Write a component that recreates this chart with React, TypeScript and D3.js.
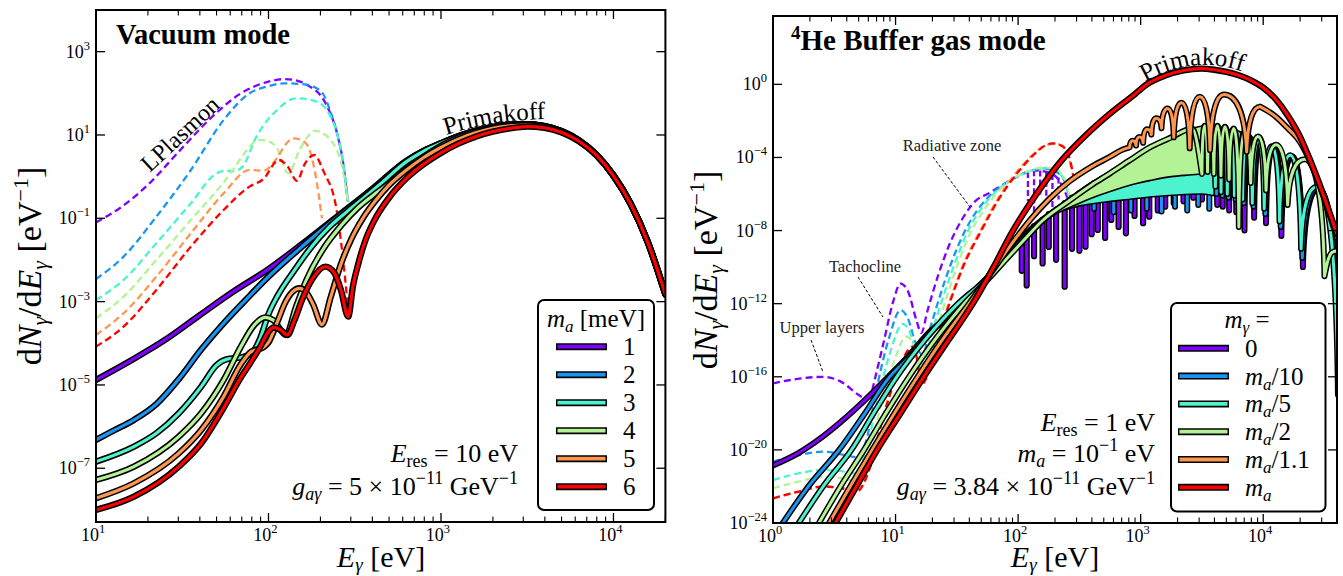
import React from "react";
import * as d3 from "d3";

type P = [number, number];
type T3 = [number, number, number];

// ---------------- colours (legend order) ----------------
const COLORS = ["#8000ff", "#1996f3", "#4df3ce", "#b3f396", "#ff964f", "#ff0000"];

// ================= LEFT PANEL : Vacuum mode =================
// points are [log10(E/eV), log10(dN/dE)]
const leftMassLabels = ["1", "2", "3", "4", "5", "6"];
const leftTicksX = [10, 100, 1000, 10000];
const leftTicksY = [-7, -5, -3, -1, 1, 3];

const vacSolid1: P[] = [[1.0,-4.88],[1.2,-4.42],[1.4,-3.92],[1.6,-3.33],[1.8,-2.75],[2.0,-2.22],[2.2,-1.6],[2.4,-0.95],[2.6,-0.3],[2.8,0.38],[2.9,0.62],[3.0,0.8],[3.1,0.97],[3.2,1.1],[3.3,1.19],[3.4,1.245],[3.5,1.26],[3.6,1.21],[3.7,1.09],[3.8,0.87],[3.9,0.53],[4.0,0.03],[4.1,-0.65],[4.2,-1.58],[4.301,-2.82]];
const vacSolid2: P[] = [[1.0,-6.32],[1.1,-6.1],[1.22,-5.84],[1.35,-5.46],[1.48,-4.86],[1.61,-4.15],[1.74,-3.52],[1.87,-2.95],[2.0,-2.4],[2.1,-2.02],[2.2,-1.66],[2.4,-0.97],[2.6,-0.31],[2.8,0.38],[2.9,0.62],[3.0,0.8],[3.1,0.97],[3.2,1.1],[3.3,1.19],[3.4,1.245],[3.5,1.26],[3.6,1.21],[3.7,1.09],[3.8,0.87],[3.9,0.53],[4.0,0.03],[4.1,-0.65],[4.2,-1.58],[4.301,-2.82]];
const vacSolid3: P[] = [[1.0,-6.84],[1.22,-6.48],[1.35,-6.16],[1.48,-5.68],[1.61,-5.04],[1.7,-4.52],[1.76,-4.38],[1.84,-4.34],[1.9,-4.25],[1.95,-3.9],[2.0,-3.3],[2.05,-2.88],[2.15,-2.25],[2.25,-1.68],[2.35,-1.22],[2.45,-0.86],[2.55,-0.52],[2.65,-0.17],[2.8,0.36],[2.9,0.61],[3.0,0.8],[3.1,0.97],[3.2,1.1],[3.3,1.19],[3.4,1.245],[3.5,1.26],[3.6,1.21],[3.7,1.09],[3.8,0.87],[3.9,0.53],[4.0,0.03],[4.1,-0.65],[4.2,-1.58],[4.301,-2.82]];
const vacSolid4: P[] = [[1.0,-7.28],[1.22,-6.96],[1.48,-6.24],[1.61,-5.68],[1.74,-4.88],[1.84,-4.08],[1.92,-3.55],[1.98,-3.38],[2.03,-3.45],[2.07,-3.68],[2.1,-3.8],[2.16,-3.12],[2.22,-2.48],[2.32,-1.72],[2.42,-1.18],[2.51,-0.78],[2.6,-0.47],[2.7,-0.16],[2.8,0.18],[2.9,0.48],[3.0,0.74],[3.1,0.94],[3.2,1.08],[3.3,1.18],[3.4,1.24],[3.5,1.255],[3.6,1.21],[3.7,1.09],[3.8,0.87],[3.9,0.53],[4.0,0.03],[4.1,-0.65],[4.2,-1.58],[4.301,-2.82]];
const vacSolid5: P[] = [[1.0,-7.72],[1.22,-7.36],[1.48,-6.64],[1.61,-6.08],[1.74,-5.28],[1.84,-4.5],[1.9,-4.2],[1.97,-4.1],[2.0,-3.98],[2.05,-3.5],[2.1,-3.0],[2.14,-2.76],[2.18,-2.68],[2.22,-2.78],[2.26,-3.08],[2.31,-3.55],[2.36,-2.9],[2.42,-2.1],[2.48,-1.5],[2.55,-0.98],[2.62,-0.58],[2.7,-0.2],[2.8,0.16],[2.9,0.46],[3.0,0.7],[3.1,0.9],[3.2,1.05],[3.3,1.16],[3.4,1.22],[3.5,1.24],[3.6,1.2],[3.7,1.08],[3.8,0.86],[3.9,0.52],[4.0,0.02],[4.1,-0.66],[4.2,-1.59],[4.301,-2.83]];
const vacSolid6: P[] = [[1.0,-8.0],[1.22,-7.68],[1.48,-6.96],[1.61,-6.4],[1.74,-5.55],[1.84,-4.82],[1.89,-4.5],[1.95,-4.1],[2.0,-3.72],[2.03,-3.62],[2.07,-3.68],[2.11,-3.8],[2.15,-3.45],[2.2,-2.9],[2.26,-2.42],[2.33,-2.16],[2.38,-2.3],[2.42,-2.72],[2.462,-3.36],[2.49,-2.62],[2.52,-2.1],[2.56,-1.55],[2.61,-1.08],[2.7,-0.5],[2.8,-0.04],[2.9,0.3],[3.0,0.57],[3.1,0.79],[3.2,0.96],[3.3,1.08],[3.4,1.16],[3.5,1.2],[3.6,1.17],[3.7,1.06],[3.8,0.85],[3.9,0.52],[4.0,0.02],[4.1,-0.66],[4.2,-1.59],[4.301,-2.83]];
const vacSolid = [vacSolid1, vacSolid2, vacSolid3, vacSolid4, vacSolid5, vacSolid6];

const vacDash1: P[] = [[1.0,-1.1],[1.15,-0.72],[1.3,-0.2],[1.48,0.6],[1.69,1.5],[1.84,2.0],[2.0,2.28],[2.09,2.34],[2.17,2.3],[2.24,2.16],[2.3,1.96],[2.35,1.6],[2.4,1.0],[2.43,0.4],[2.46,-0.6]];
const vacDash2: P[] = [[1.0,-2.46],[1.16,-1.92],[1.35,-0.96],[1.55,0.16],[1.74,1.36],[1.89,2.0],[2.0,2.17],[2.09,2.24],[2.2,2.22],[2.28,2.12],[2.32,1.96],[2.36,1.55],[2.4,1.0],[2.43,0.4],[2.46,-0.6]];
const vacDash3: P[] = [[1.0,-2.96],[1.16,-2.48],[1.35,-1.6],[1.55,-0.64],[1.7,0.08],[1.75,0.14],[1.8,0.13],[1.85,0.24],[1.93,0.96],[2.05,1.6],[2.16,1.88],[2.28,1.8],[2.36,1.44],[2.4,1.0],[2.43,0.4],[2.46,-0.6]];
const vacDash4: P[] = [[1.0,-3.4],[1.16,-2.88],[1.35,-2.0],[1.55,-1.04],[1.78,0.08],[1.85,0.5],[1.89,0.72],[1.95,0.88],[2.0,0.85],[2.05,0.68],[2.115,0.08],[2.18,0.64],[2.27,1.1],[2.36,0.88],[2.43,0.16],[2.46,-0.6]];
const vacDash5: P[] = [[1.0,-3.8],[1.16,-3.28],[1.35,-2.4],[1.55,-1.36],[1.74,-0.4],[1.89,0.16],[1.97,0.14],[2.05,0.45],[2.1,0.78],[2.144,0.92],[2.19,0.88],[2.23,0.72],[2.27,0.1],[2.31,-1.0]];
const vacDash6: P[] = [[1.0,-4.08],[1.16,-3.6],[1.35,-2.72],[1.55,-1.68],[1.74,-0.8],[1.89,-0.24],[1.97,-0.06],[2.06,0.4],[2.11,0.25],[2.165,-0.1],[2.21,0.3],[2.265,0.52],[2.32,0.12],[2.395,-0.8],[2.43,-1.9],[2.46,-3.1]];
const vacDash = [vacDash1, vacDash2, vacDash3, vacDash4, vacDash5, vacDash6];

// ================= RIGHT PANEL : 4He buffer gas =================
const rightLegendLabels = ["0", "m_a/10", "m_a/5", "m_a/2", "m_a/1.1", "m_a"];
const rightTicksX = [1, 10, 100, 1000, 10000];
const rightTicksY = [-24, -20, -16, -12, -8, -4, 0];

// m_gamma = 0
const gas0Pre: P[] = [[0,-20.85],[0.2,-20.2],[0.4,-19.3],[0.6,-18.2],[0.8,-16.95],[0.94,-16.0],[1.1,-14.9],[1.3,-13.4],[1.5,-12.5],[1.55,-12.1],[1.58,-12.05],[1.62,-11.55],[1.65,-11.45],[1.69,-11.0],[1.72,-10.85],[1.8,-10.1],[1.9,-9.4],[2.0,-8.6],[2.1,-7.95],[2.2,-7.4],[2.4,-6.45],[2.6,-5.55],[2.8,-4.75],[3.0,-3.95],[3.2,-3.3],[3.4,-2.8],[3.55,-2.55],[3.6,-2.5],[3.625,-6.6]];
const gas0Dips: P[] = [[3.625,-6.6],[3.67,-6.7],[3.722,-6.9],[3.78,-7.0],[3.847,-8.0],[3.926,-7.3],[4.023,-7.6],[4.148,-8.3],[4.324,-10.0],[4.625,-17.0]];
const gas0Peaks: P[] = [[3.648,-2.55],[3.696,-2.58],[3.751,-2.65],[3.813,-2.73],[3.886,-2.86],[3.975,-3.1],[4.085,-3.45],[4.236,-3.95],[4.455,-5.7]];
const gas0Spikes: T3[] = [[2.03,-8.4,-10.2],[2.07,-8.15,-11.0],[2.13,-7.75,-9.4],[2.2,-7.4,-9.8],[2.25,-7.1,-8.9],[2.31,-6.85,-9.6],[2.38,-6.5,-11.07],[2.44,-6.2,-9.0],[2.5,-5.95,-9.1],[2.55,-5.75,-8.88],[2.6,-5.55,-8.2],[2.65,-5.35,-7.97],[2.71,-5.1,-8.4],[2.76,-4.9,-7.42],[2.82,-4.7,-7.8],[2.88,-4.5,-8.15],[2.95,-4.2,-7.2],[3.02,-3.9,-7.6],[3.07,-3.75,-7.24],[3.14,-3.5,-6.9],[3.2,-3.3,-6.69],[3.27,-3.1,-6.5],[3.35,-2.85,-6.4],[3.43,-2.7,-6.2],[3.5,-2.55,-6.3]];
// m_a/10
const gas1Pre: P[] = [[0.05,-24.3],[0.3,-21.9],[0.54,-20.0],[0.75,-18.0],[0.94,-16.1],[1.1,-15.0],[1.3,-13.5],[1.48,-12.3],[1.6,-11.6],[1.8,-10.2],[2.0,-8.7],[2.2,-7.45],[2.4,-6.45],[2.6,-5.5],[2.8,-4.7],[3.0,-3.9],[3.2,-3.25],[3.4,-2.75],[3.55,-2.5],[3.6,-2.48],[3.62,-6.0]];
const gas1Dips: P[] = [[3.62,-6.0],[3.666,-6.1],[3.717,-6.2],[3.775,-6.3],[3.842,-6.5],[3.921,-6.7],[4.018,-7.1],[4.143,-7.8],[4.319,-9.5],[4.62,-17.0]];
const gas1Peaks: P[] = [[3.643,-2.53],[3.691,-2.56],[3.746,-2.63],[3.808,-2.71],[3.881,-2.84],[3.97,-3.08],[4.08,-3.43],[4.231,-3.93],[4.45,-5.65]];
const gas1Spikes: T3[] = [[2.62,-5.4,-6.8],[2.78,-4.8,-7.0],[2.92,-4.3,-6.9],[3.05,-3.8,-6.8],[3.17,-3.4,-6.95],[3.28,-3.05,-6.7],[3.38,-2.8,-6.9],[3.47,-2.6,-6.6],[3.56,-2.5,-6.8]];
// m_a/5
const gas2Pre: P[] = [[0.21,-24],[0.42,-21.9],[0.64,-20],[0.83,-17.9],[1.01,-16],[1.25,-13.9],[1.51,-12],[1.7,-10.9],[1.85,-9.9],[2.0,-8.75],[2.2,-7.45],[2.4,-6.45],[2.6,-5.5],[2.8,-4.7],[3.0,-3.9],[3.2,-3.25],[3.4,-2.75],[3.55,-2.5],[3.59,-2.48],[3.61,-5.6]];
const gas2Dips: P[] = [[3.61,-5.6],[3.656,-5.9],[3.707,-6.0],[3.765,-6.1],[3.832,-6.3],[3.911,-6.5],[4.008,-6.8],[4.133,-7.5],[4.309,-9.0],[4.61,-17.0]];
const gas2Peaks: P[] = [[3.633,-2.5],[3.681,-2.52],[3.736,-2.58],[3.798,-2.67],[3.871,-2.8],[3.96,-3.03],[4.07,-3.38],[4.221,-3.88],[4.44,-5.6]];
const gas2Band: T3[] = [[2.35,-6.7,-6.95],[2.5,-6.0,-6.65],[2.7,-5.1,-6.45],[2.9,-4.3,-6.3],[3.1,-3.6,-6.15],[3.3,-3.0,-6.05],[3.5,-2.6,-6.0],[3.6,-2.5,-6.1]];
// m_a/2
const gas3Pre: P[] = [[0.375,-24],[0.56,-21.9],[0.743,-20],[0.93,-17.9],[1.11,-16],[1.33,-13.9],[1.56,-12],[1.75,-10.7],[1.9,-9.6],[2.05,-8.5],[2.2,-7.45],[2.4,-6.45],[2.6,-5.5],[2.75,-4.87],[2.9,-4.2],[3.085,-3.41],[3.25,-2.9],[3.42,-2.41],[3.5,-4.9]];
const gas3Dips: P[] = [[3.5,-4.9],[3.546,-4.8],[3.597,-4.9],[3.655,-5.0],[3.722,-5.2],[3.801,-7.8],[3.898,-5.4],[4.023,-5.8],[4.199,-6.6],[4.5,-10.5]];
const gas3Peaks: P[] = [[3.523,-2.26],[3.572,-2.25],[3.626,-2.27],[3.688,-2.32],[3.76,-2.42],[3.848,-2.58],[3.958,-2.85],[4.105,-3.3],[4.34,-4.1]];
const gas3Post: P[] = [[4.5,-10.5],[4.53,-9.6],[4.56,-9.2],[4.602,-9.1]];
const gas3Band: T3[] = [[2.2,-7.45,-7.5],[2.35,-6.7,-6.95],[2.5,-5.95,-6.5],[2.65,-5.3,-6.1],[2.8,-4.65,-5.75],[2.95,-4.0,-5.45],[3.085,-3.41,-5.25],[3.25,-2.9,-5.05],[3.42,-2.41,-4.95],[3.5,-2.28,-4.9]];
// m_a/1.1
const gas4Pre: P[] = [[0.458,-24],[0.63,-22],[0.81,-20],[1.0,-17.9],[1.18,-16],[1.39,-13.9],[1.6,-12],[1.78,-10.3],[1.95,-8.7],[2.1,-7.4],[2.25,-6.3],[2.42,-5.3],[2.6,-4.5],[2.75,-3.96],[2.85,-3.58],[2.91,-3.45]];
const gas4Dips: P[] = [[2.91,-3.45],[2.962,-3.35],[3.02,-3.2],[3.087,-2.75],[3.17,-2.4],[3.27,-2.9],[3.4,-3.5],[3.566,-3.6],[3.865,-3.7]];
const gas4Peaks: P[] = [[2.936,-3.08],[2.99,-2.88],[3.053,-2.45],[3.128,-1.86],[3.22,-1.32],[3.333,-1.0],[3.483,-0.68],[3.68,-0.56],[3.975,-1.22]];
const gas4Post: P[] = [[3.975,-1.22],[4.1,-1.75],[4.2,-2.4],[4.3,-3.15],[4.4,-4.5],[4.5,-6.3],[4.602,-8.4]];
// m_gamma = m_a
const gas5Line: P[] = [[0.51,-24],[0.68,-22],[0.85,-20],[1.04,-18],[1.23,-16],[1.43,-14],[1.63,-12],[1.8,-10],[1.95,-8.1],[2.15,-6.0],[2.35,-4.2],[2.55,-2.8],[2.75,-1.6],[2.95,-0.55],[3.05,0.0],[3.2,0.48],[3.35,0.76],[3.49,0.86],[3.6,0.8],[3.7,0.68],[3.8,0.5],[3.9,0.22],[4.0,-0.18],[4.1,-0.8],[4.2,-1.7],[4.3,-2.86],[4.38,-4.1],[4.45,-5.3],[4.52,-6.6],[4.602,-8.2]];

// dashed (solar-region) components
const gasDash0a: P[] = [[0,-16.36],[0.2,-16.12],[0.41,-16.0],[0.55,-16.25],[0.7,-17.0],[0.76,-17.25]];
const gasDash0b: P[] = [[0.81,-16.72],[0.9,-14.2],[0.98,-11.9],[1.04,-10.9],[1.1,-11.3],[1.17,-12.9],[1.21,-13.6],[1.26,-12.4],[1.35,-10.4],[1.45,-8.6],[1.55,-7.3],[1.66,-6.33],[1.75,-6.0],[1.9,-5.4],[2.05,-4.85],[2.12,-4.7],[2.2,-4.75],[2.3,-5.0],[2.37,-5.7],[2.42,-6.5]];
const gasDash0Spikes: T3[] = [[2.08,-4.8,-6.4],[2.13,-4.7,-7.0],[2.18,-4.72,-6.1],[2.23,-4.78,-6.7],[2.28,-4.9,-6.9],[2.33,-5.1,-6.3]];
const gasDash1: P[] = [[0,-20.64],[0.2,-20.3],[0.41,-20.1],[0.6,-20.3],[0.68,-20.4],[0.76,-19.5],[0.85,-16.5],[0.95,-13.8],[1.04,-12.35],[1.1,-12.8],[1.17,-14.3],[1.22,-14.8],[1.28,-13.4],[1.4,-10.8],[1.5,-9.0],[1.6,-7.6],[1.7,-6.6],[1.8,-5.9],[1.95,-5.2],[2.1,-4.75],[2.2,-4.6],[2.3,-4.75],[2.38,-5.3],[2.42,-6.3]];
const gasDash2: P[] = [[0,-21.65],[0.2,-21.3],[0.41,-21.1],[0.6,-21.2],[0.68,-21.3],[0.76,-20],[0.85,-17.4],[0.95,-14.8],[1.06,-13.1],[1.12,-13.6],[1.18,-14.9],[1.22,-15.3],[1.3,-13.5],[1.4,-11.4],[1.5,-9.5],[1.6,-7.9],[1.7,-6.8],[1.8,-6.0],[1.95,-5.2],[2.1,-4.75],[2.2,-4.6],[2.3,-4.7],[2.38,-5.3],[2.42,-6.3]];
const gasDash3: P[] = [[0,-22.1],[0.2,-21.75],[0.41,-21.47],[0.6,-21.6],[0.7,-21.8],[0.78,-20.3],[0.88,-17.6],[0.98,-15.3],[1.09,-13.8],[1.15,-14.3],[1.2,-15.5],[1.24,-15.8],[1.32,-13.8],[1.42,-11.6],[1.52,-9.6],[1.62,-8.0],[1.72,-6.9],[1.82,-6.0],[1.95,-5.2],[2.1,-4.7],[2.2,-4.55],[2.3,-4.6],[2.38,-5.2],[2.42,-6.1]];
const gasDash4: P[] = [[0,-22.65],[0.2,-22.3],[0.41,-22.0],[0.6,-22.15],[0.68,-22.29],[0.8,-20.7],[0.9,-18.1],[1.0,-16.0],[1.13,-14.5],[1.17,-15.0],[1.21,-16.3],[1.25,-16.0],[1.33,-14.1],[1.45,-11.7],[1.55,-9.9],[1.7,-7.9],[1.85,-6.1],[2.0,-4.7],[2.12,-3.85],[2.22,-3.35],[2.3,-3.25],[2.36,-3.35],[2.41,-3.9],[2.44,-4.8]];
const gasDash5: P[] = [[0,-22.65],[0.2,-22.3],[0.41,-22.01],[0.6,-22.15],[0.68,-22.29],[0.8,-20.8],[0.9,-18.2],[1.0,-16.1],[1.14,-14.35],[1.18,-15.2],[1.21,-16.45],[1.25,-16.1],[1.33,-14.2],[1.45,-11.8],[1.55,-10.0],[1.7,-8.0],[1.85,-6.2],[2.0,-4.8],[2.12,-3.9],[2.22,-3.35],[2.282,-3.23],[2.35,-3.35],[2.4,-3.7],[2.43,-4.3],[2.45,-5.0]];
const gasDash = [gasDash1, gasDash2, gasDash3, gasDash4, gasDash5];

// ---------------- geometry ----------------
const LB = { x0: 96, x1: 665.4, y0: 10, y1: 522 };
const RB = { x0: 773, x1: 1337, y0: 16, y1: 523 };
const FONT = "'Liberation Serif', 'Times New Roman', serif";

const xL = d3.scaleLog().domain([10, 2e4]).range([LB.x0, LB.x1]);
const yL = d3.scaleLog().domain([Math.pow(10, -8.29), 1e4]).range([LB.y1, LB.y0]);
const xR = d3.scaleLog().domain([1, 4e4]).range([RB.x0, RB.x1]);
const yR = d3.scaleLog().domain([1e-24, Math.pow(10, 3.74)]).range([RB.y1, RB.y0]);

function mkLine(xs: any, ys: any) {
  return d3.line<P>()
    .x((d) => xs(Math.pow(10, d[0])))
    .y((d) => ys(Math.pow(10, d[1])))
    .curve(d3.curveMonotoneX);
}
const lineL = mkLine(xL, yL);
const lineR = mkLine(xR, yR);

// oscillating curve: smooth part, then one arch per lobe between read dips and peaks
function oscPath(pre: P[], dips: P[], peaks: P[], post: P[] = []) {
  const S = (p: P) => [xR(Math.pow(10, p[0])), yR(Math.pow(10, p[1]))];
  let s = pre.length > 1 ? (lineR(pre) || "") : `M${S(dips[0]).join(",")}`;
  for (let i = 0; i < peaks.length; i++) {
    const [ax, ay] = S(dips[i]);
    const [px, py] = S(peaks[i]);
    s += `C${ax + 0.08 * (px - ax)},${ay + 0.72 * (py - ay)} ${px - 0.5 * (px - ax)},${py} ${px},${py}`;
    if (i + 1 < dips.length) {
      const [bx, by] = S(dips[i + 1]);
      s += `C${px + 0.5 * (bx - px)},${py} ${bx - 0.08 * (bx - px)},${by + 0.72 * (py - by)} ${bx},${by}`;
    }
  }
  if (post.length > 1) s += (lineR(post) || "").replace(/^M/, "L");
  return s;
}

function Frame({ b, xs, ys, xMaj, xMax, yMaj }: any) {
  const ticks: JSX.Element[] = [];
  const xmin = xs.domain()[0];
  xMaj.forEach((v: number, i: number) => {
    const X = xs(v);
    ticks.push(<line key={"xb" + i} x1={X} x2={X} y1={b.y1} y2={b.y1 - 9} stroke="#000" strokeWidth={1.3} />);
    ticks.push(<line key={"xt" + i} x1={X} x2={X} y1={b.y0} y2={b.y0 + 9} stroke="#000" strokeWidth={1.3} />);
    for (let k = 2; k <= 9; k++) {
      const m = v * k;
      if (m > xMax || m < xmin) continue;
      const Xm = xs(m);
      ticks.push(<line key={"mb" + i + k} x1={Xm} x2={Xm} y1={b.y1} y2={b.y1 - 5.5} stroke="#000" strokeWidth={1.1} />);
      ticks.push(<line key={"mt" + i + k} x1={Xm} x2={Xm} y1={b.y0} y2={b.y0 + 5.5} stroke="#000" strokeWidth={1.1} />);
    }
  });
  yMaj.forEach((e: number, i: number) => {
    const Y = ys(Math.pow(10, e));
    ticks.push(<line key={"yl" + i} x1={b.x0} x2={b.x0 + 9} y1={Y} y2={Y} stroke="#000" strokeWidth={1.3} />);
    ticks.push(<line key={"yr" + i} x1={b.x1} x2={b.x1 - 9} y1={Y} y2={Y} stroke="#000" strokeWidth={1.3} />);
  });
  return <g>{ticks}</g>;
}

function TickLabels({ b, xs, ys, xMaj, yMaj }: any) {
  return (
    <g fontFamily={FONT} fill="#000">
      {xMaj.map((v: number, i: number) => (
        <text key={"xl" + i} x={xs(v) - 3} y={b.y1 + 19} fontSize={18} textAnchor="middle">
          10<tspan dy={-8} fontSize={12.5}>{Math.round(Math.log10(v))}</tspan>
        </text>
      ))}
      {yMaj.map((e: number, i: number) => (
        <text key={"yl" + i} x={b.x0 - 6} y={ys(Math.pow(10, e)) + 6} fontSize={18} textAnchor="end">
          10<tspan dy={-8} fontSize={12.5}>{e < 0 ? "\u2212" + Math.abs(e) : String(e)}</tspan>
        </text>
      ))}
    </g>
  );
}

function OutlinedPath({ d, color, w = 3.2, bw = 6.4 }: any) {
  return (
    <g>
      <path d={d} fill="none" stroke="#000" strokeWidth={bw} strokeLinejoin="round" strokeLinecap="round" />
      <path d={d} fill="none" stroke={color} strokeWidth={w} strokeLinejoin="round" strokeLinecap="round" />
    </g>
  );
}

function Spikes({ data, color, dashed = false, w = 2.8 }: { data: T3[]; color: string; dashed?: boolean; w?: number }) {
  return (
    <g>
      {data.map((s, i) => {
        const X = xR(Math.pow(10, s[0]));
        const y1 = yR(Math.pow(10, s[1]));
        const y2 = yR(Math.pow(10, s[2]));
        return dashed ? (
          <line key={i} x1={X} x2={X} y1={y1} y2={y2} stroke={color} strokeWidth={2.3} strokeDasharray="6,3" />
        ) : (
          <g key={i}>
            <line x1={X} x2={X} y1={y1} y2={y2} stroke="#000" strokeWidth={w + 3} strokeLinecap="round" />
            <line x1={X} x2={X} y1={y1} y2={y2} stroke={color} strokeWidth={w} strokeLinecap="round" />
          </g>
        );
      })}
    </g>
  );
}

function YLabel({ x, y }: any) {
  return (
    <text transform={`translate(${x},${y}) rotate(-90)`} fontFamily={FONT} fontSize={34} textAnchor="middle">
      d<tspan fontStyle="italic">N</tspan><tspan fontSize={22} dy={6} fontStyle="italic">γ</tspan>
      <tspan dy={-6}>/d</tspan><tspan fontStyle="italic">E</tspan><tspan fontSize={22} dy={6} fontStyle="italic">γ</tspan>
      <tspan dy={-6}> [eV</tspan><tspan fontSize={22} dy={-13}>−1</tspan><tspan dy={13}>]</tspan>
    </text>
  );
}
function XLabel({ x, y }: any) {
  return (
    <text x={x} y={y} fontFamily={FONT} fontSize={30} textAnchor="middle">
      <tspan fontStyle="italic">E</tspan><tspan fontSize={19} dy={4} fontStyle="italic">γ</tspan><tspan dy={-4}> [eV]</tspan>
    </text>
  );
}

function LeftPanel() {
  return (
    <g>
      <defs>
        <clipPath id="clipL"><rect x={LB.x0} y={LB.y0} width={LB.x1 - LB.x0} height={LB.y1 - LB.y0} /></clipPath>
        <path id="primL" d="M 446,135 Q 500,118 560,119" />
      </defs>
      <rect x={LB.x0} y={LB.y0} width={LB.x1 - LB.x0} height={LB.y1 - LB.y0} fill="#fff" />
      <g clipPath="url(#clipL)">
        {vacDash.map((c, i) => (
          <path key={"d" + i} d={lineL(c) || ""} fill="none" stroke={COLORS[i]} strokeWidth={2.3} strokeDasharray="7,4" />
        ))}
        {vacSolid.map((c, i) => (
          <OutlinedPath key={"s" + i} d={lineL(c) || ""} color={COLORS[i]} />
        ))}
      </g>
      <Frame b={LB} xs={xL} ys={yL} xMaj={leftTicksX} xMax={2e4} yMaj={leftTicksY} />
      <rect x={LB.x0} y={LB.y0} width={LB.x1 - LB.x0} height={LB.y1 - LB.y0} fill="none" stroke="#000" strokeWidth={2} />
      <TickLabels b={LB} xs={xL} ys={yL} xMaj={leftTicksX} yMaj={leftTicksY} />
      <text x={116} y={44} fontFamily={FONT} fontSize={28.5} fontWeight="bold">Vacuum mode</text>
      <text fontFamily={FONT} fontSize={24} transform="translate(180,134) rotate(-43)" textAnchor="middle" dy={8}>LPlasmon</text>
      <text fontFamily={FONT} fontSize={25}><textPath href="#primL">Primakoff</textPath></text>
      <g fontFamily={FONT} fontSize={26} textAnchor="end">
        <text x={518} y={462}>
          <tspan fontStyle="italic">E</tspan><tspan fontSize={18} dy={5}>res</tspan><tspan dy={-5}> = 10 eV</tspan>
        </text>
        <text x={518} y={495}>
          <tspan fontStyle="italic">g</tspan><tspan fontSize={18} dy={5} fontStyle="italic">aγ</tspan><tspan dy={-5}> = 5 × 10</tspan>
          <tspan fontSize={18} dy={-11}>−11</tspan><tspan dy={11}> GeV</tspan><tspan fontSize={18} dy={-11}>−1</tspan>
        </text>
      </g>
      {/* legend */}
      <rect x={538} y={300} width={116} height={210} rx={6} fill="#fff" stroke="#000" strokeWidth={2} />
      <text x={596} y={327} fontFamily={FONT} fontSize={25} textAnchor="middle">
        <tspan fontStyle="italic">m</tspan><tspan fontSize={17} dy={5} fontStyle="italic">a</tspan><tspan dy={-5}> [meV]</tspan>
      </text>
      {leftMassLabels.map((lab, i) => {
        const Y = 346.7 + i * 28;
        return (
          <g key={"lg" + i}>
            <line x1={556} x2={607} y1={Y} y2={Y} stroke="#000" strokeWidth={7} />
            <line x1={557.5} x2={605.5} y1={Y} y2={Y} stroke={COLORS[i]} strokeWidth={3.8} />
            <text x={623} y={Y + 8.5} fontFamily={FONT} fontSize={25}>{lab}</text>
          </g>
        );
      })}
      <YLabel x={41} y={266} />
      <XLabel x={381} y={567} />
    </g>
  );
}

function RightPanel() {
  const area = d3.area<T3>()
    .x((d) => xR(Math.pow(10, d[0])))
    .y0((d) => yR(Math.pow(10, d[2])))
    .y1((d) => yR(Math.pow(10, d[1])))
    .curve(d3.curveMonotoneX);
  return (
    <g>
      <defs>
        <clipPath id="clipR"><rect x={RB.x0} y={RB.y0} width={RB.x1 - RB.x0} height={RB.y1 - RB.y0} /></clipPath>
        <path id="primR" d="M 1145,82 Q 1200,50 1258,78" />
      </defs>
      <rect x={RB.x0} y={RB.y0} width={RB.x1 - RB.x0} height={RB.y1 - RB.y0} fill="#fff" />
      <g clipPath="url(#clipR)">
        <path d={lineR(gasDash0a) || ""} fill="none" stroke={COLORS[0]} strokeWidth={2.3} strokeDasharray="7,4" />
        <path d={lineR(gasDash0b) || ""} fill="none" stroke={COLORS[0]} strokeWidth={2.3} strokeDasharray="7,4" />
        <Spikes data={gasDash0Spikes} color={COLORS[0]} dashed />
        {gasDash.map((c, i) => (
          <path key={"d" + i} d={lineR(c) || ""} fill="none" stroke={COLORS[i + 1]} strokeWidth={2.3} strokeDasharray="7,4" />
        ))}
        {/* m_gamma = 0 */}
        <OutlinedPath d={oscPath(gas0Pre, gas0Dips, gas0Peaks)} color={COLORS[0]} w={3} bw={6} />
        <Spikes data={gas0Spikes} color={COLORS[0]} w={3.2} />
        {/* m_a/10 */}
        <OutlinedPath d={oscPath(gas1Pre, gas1Dips, gas1Peaks)} color={COLORS[1]} w={3} bw={6} />
        <Spikes data={gas1Spikes} color={COLORS[1]} w={3} />
        {/* m_a/5 */}
        <path d={area(gas2Band) || ""} fill={COLORS[2]} stroke="#000" strokeWidth={1.6} />
        <OutlinedPath d={oscPath(gas2Pre, gas2Dips, gas2Peaks)} color={COLORS[2]} w={3} bw={6} />
        {/* m_a/2 */}
        <path d={area(gas3Band) || ""} fill={COLORS[3]} stroke="#000" strokeWidth={1.6} />
        <OutlinedPath d={oscPath(gas3Pre, gas3Dips, gas3Peaks, gas3Post)} color={COLORS[3]} w={3} bw={6} />
        {/* m_a/1.1 */}
        <OutlinedPath d={oscPath(gas4Pre, gas4Dips, gas4Peaks, gas4Post)} color={COLORS[4]} w={3} bw={6} />
        {/* m_a */}
        <OutlinedPath d={lineR(gas5Line) || ""} color={COLORS[5]} w={3.2} bw={6.4} />
      </g>
      <Frame b={RB} xs={xR} ys={yR} xMaj={rightTicksX} xMax={4e4} yMaj={rightTicksY} />
      <rect x={RB.x0} y={RB.y0} width={RB.x1 - RB.x0} height={RB.y1 - RB.y0} fill="none" stroke="#000" strokeWidth={2} />
      <TickLabels b={RB} xs={xR} ys={yR} xMaj={rightTicksX} yMaj={rightTicksY} />
      <text x={791} y={50} fontFamily={FONT} fontSize={29} fontWeight="bold">
        <tspan fontSize={19} dy={-11}>4</tspan><tspan dy={11}>He Buffer gas mode</tspan>
      </text>
      <text fontFamily={FONT} fontSize={25}><textPath href="#primR">Primakoff</textPath></text>
      <g fontFamily={FONT} fontSize={16.5} fill="#222">
        <text x={952} y={151} textAnchor="middle">Radiative zone</text>
        <text x={865} y={272} textAnchor="middle">Tachocline</text>
        <text x={822} y={333} textAnchor="middle">Upper layers</text>
      </g>
      <g stroke="#000" strokeWidth={1} strokeDasharray="3,2" fill="none">
        <line x1={933} y1={157} x2={970} y2={207} />
        <line x1={858} y1={277} x2={883} y2={317} />
        <line x1={811} y1={340} x2={823} y2={372} />
      </g>
      <g fontFamily={FONT} fontSize={26} textAnchor="end">
        <text x={1155} y={431}>
          <tspan fontStyle="italic">E</tspan><tspan fontSize={18} dy={5}>res</tspan><tspan dy={-5}> = 1 eV</tspan>
        </text>
        <text x={1155} y={462}>
          <tspan fontStyle="italic">m</tspan><tspan fontSize={18} dy={5} fontStyle="italic">a</tspan><tspan dy={-5}> = 10</tspan>
          <tspan fontSize={18} dy={-11}>−1</tspan><tspan dy={11}> eV</tspan>
        </text>
        <text x={1155} y={495}>
          <tspan fontStyle="italic">g</tspan><tspan fontSize={18} dy={5} fontStyle="italic">aγ</tspan><tspan dy={-5}> = 3.84 × 10</tspan>
          <tspan fontSize={18} dy={-11}>−11</tspan><tspan dy={11}> GeV</tspan><tspan fontSize={18} dy={-11}>−1</tspan>
        </text>
      </g>
      <rect x={1171} y={303} width={154.5} height={208.5} rx={6} fill="#fff" stroke="#000" strokeWidth={2} />
      <text x={1247} y={328} fontFamily={FONT} fontSize={25} textAnchor="middle">
        <tspan fontStyle="italic">m</tspan><tspan fontSize={17} dy={5} fontStyle="italic">γ</tspan><tspan dy={-5}> =</tspan>
      </text>
      {rightLegendLabels.map((lab, i) => {
        const Y = 348.3 + i * 27.8;
        const parts = lab.split("/");
        return (
          <g key={"rg" + i}>
            <line x1={1178} x2={1229} y1={Y} y2={Y} stroke="#000" strokeWidth={7} />
            <line x1={1179.5} x2={1227.5} y1={Y} y2={Y} stroke={COLORS[i]} strokeWidth={3.8} />
            <text x={1245} y={Y + 8.5} fontFamily={FONT} fontSize={25}>
              {lab === "0" ? "0" : (
                <>
                  <tspan fontStyle="italic">m</tspan><tspan fontSize={17} dy={5} fontStyle="italic">a</tspan>
                  <tspan dy={-5}>{parts.length > 1 ? "/" + parts[1] : ""}</tspan>
                </>
              )}
            </text>
          </g>
        );
      })}
      <YLabel x={717} y={270} />
      <XLabel x={1055} y={567} />
    </g>
  );
}

export default function App() {
  return (
    <svg width={1343} height={576} style={{ position: "absolute", left: 0, top: 0, background: "#fff" }}>
      <rect x={0} y={0} width={1343} height={576} fill="#fff" />
      <LeftPanel />
      <RightPanel />
    </svg>
  );
}
